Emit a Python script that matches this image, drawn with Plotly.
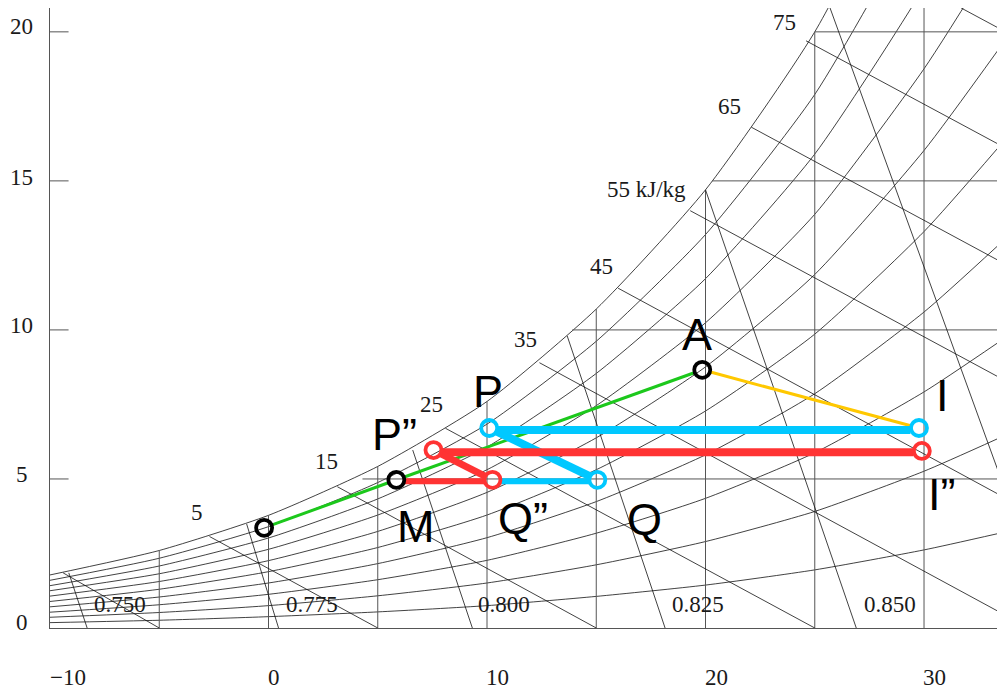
import plotly.graph_objects as go

# Psychrometric chart values
temp_grid = [-10, -5, 0, 5, 10, 15, 20, 25, 30, 33.4]
rh_curves = {
    100: [1.78, 2.60, 3.78, 5.42, 7.60, 10.70, 14.70, 20.00, 27.20, 33.00],
    90: [1.60, 2.34, 3.40, 4.88, 6.84, 9.62, 13.20, 17.90, 24.30, 29.50],
    80: [1.42, 2.08, 3.02, 4.33, 6.07, 8.54, 11.72, 15.90, 21.50, 26.10],
    70: [1.25, 1.82, 2.64, 3.79, 5.31, 7.46, 10.24, 13.88, 18.76, 22.70],
    60: [1.07, 1.56, 2.26, 3.24, 4.55, 6.38, 8.76, 11.86, 16.02, 19.40],
    50: [0.89, 1.30, 1.89, 2.70, 3.79, 5.31, 7.28, 9.86, 13.30, 16.12],
    40: [0.71, 1.04, 1.51, 2.16, 3.03, 4.24, 5.81, 7.86, 10.60, 12.84],
    30: [0.53, 0.78, 1.13, 1.62, 2.27, 3.18, 4.35, 5.88, 7.92, 9.58],
    20: [0.36, 0.52, 0.75, 1.08, 1.51, 2.12, 2.90, 3.91, 5.26, 6.36],
    10: [0.18, 0.26, 0.38, 0.54, 0.75, 1.06, 1.44, 1.95, 2.62, 3.17],
}
dry_bulb_lines = [(-5, 2.60), (0, 3.78), (5, 5.42), (10, 7.60), (15, 10.70), (20, 14.70), (25, 20.00), (30, 20.8)]
humidity_lines = [(4.3, 5), (13.9, 10), (20.3, 15), (25.0, 20)]

# enthalpy lines: (T, W) on the saturation curve -> (T, W) further down
enthalpy_lines = [
    ((-9.4, 1.85), (-5, 0)), ((-2.7, 3.07), (5, 0)), ((3.15, 4.74), (15, 0)),
    ((8.1, 6.7), (25, 0)), ((12.4, 8.9), (34.8, 0)), ((16.0, 11.4), (44.7, 0)),
    ((19.3, 14.0), (54.7, 0)), ((22.1, 16.8), (64.6, 0)), ((24.6, 19.7), (74.6, 0)),
    ((31.7, 20.8), (84.5, 0)),
]
enthalpy_text = ["5", "15", "25", "35", "45", "55 kJ/kg", "65", "75"]
enthalpy_x = [-3.25, 2.65, 7.45, 11.75, 15.25, 17.3, 21.1, 23.6]
enthalpy_y = [3.88, 5.57, 7.5, 9.69, 12.13, 14.72, 17.5, 20.3]

# specific volume lines
volume_lines = [
    ((-9.14, 1.85), (-8.3, 0)), ((-1.0, 3.49), (0.46, 0)), ((6.6, 5.97), (9.33, 0)),
    ((13.67, 9.8), (18.15, 0)), ((20.0, 14.7), (26.9, 0)), ((25.7, 20.8), (36.0, 0)),
]
volume_text = ["0.750", "0.775", "0.800", "0.825", "0.850"]
volume_x = [-6.8, 2.0, 10.8, 19.65, 28.45]
volume_y = [0.8, 0.8, 0.8, 0.8, 0.8]

# process points
S = (-0.2, 3.36)
M = (5.85, 4.97)
A = (19.85, 8.66)
I = (29.77, 6.71)
P = (10.1, 6.71)
Q = (15.05, 4.97)
Q2 = (10.25, 4.97)
P2 = (7.55, 5.97)
I2 = (29.9, 5.94)

# humidity of the thick horizontal strokes
blue_top_w = 6.64
red_top_w = 5.9
low_w = 4.92

point_text = ["A", "P", "P”", "I", "I”", "M", "Q”", "Q"]
point_text_x = [19.6, 10.05, 5.75, 30.85, 30.8, 6.75, 11.65, 17.2]
point_text_y = [9.84, 7.93, 6.48, 7.81, 4.47, 3.42, 3.67, 3.65]

x_tick_labels = ["−10", "0", "10", "20", "30"]
x_tick_pos = [-9.18, 0.26, 10.5, 20.5, 30.5]
y_ticks = [0, 5, 10, 15, 20]
y_tick_labels = ["0", "5", "10", "15", "20"]
y_tick_pos = [0.17, 5.15, 10.15, 15.13, 20.18]

PX_X, PX_Y = 21.85, 29.8
SERIF = "Liberation Serif, serif"
SANS = "Liberation Sans, Arial, sans-serif"
INK = "#1a1a1a"


def shorten(p, q, r1=8.5, r2=8.5):
    dx, dy = (q[0] - p[0]) * PX_X, (q[1] - p[1]) * PX_Y
    d = (dx * dx + dy * dy) ** 0.5
    a = (p[0] + dx / d * r1 / PX_X, p[1] + dy / d * r1 / PX_Y)
    b = (q[0] - dx / d * r2 / PX_X, q[1] - dy / d * r2 / PX_Y)
    return a, b


fig = go.Figure()


def line(xs, ys, color="#111111", width=0.8, shape="linear"):
    fig.add_trace(go.Scatter(x=xs, y=ys, mode="lines", showlegend=False, hoverinfo="skip",
                             line=dict(color=color, width=width, shape=shape, smoothing=0.6)))


for rh, ws in rh_curves.items():
    line(temp_grid, ws, shape="spline")
for t, w in dry_bulb_lines:
    line([t, t], [0, w], color="#555555", width=1)
for t, w in humidity_lines:
    line([t, 34], [w, w], color="#555555", width=1)
for w in y_ticks[1:]:
    line([-10, -9.15], [w, w], color="#555555", width=1)
for a, b in enthalpy_lines + volume_lines:
    line([a[0], b[0]], [a[1], b[1]])


def seg(p, q, color, width):
    a, b = shorten(p, q)
    line([a[0], b[0]], [a[1], b[1]], color=color, width=width)


GREEN, YELLOW, BLUE, RED = "#1cc81c", "#ffc800", "#00c8ff", "#ff3333"
seg(S, M, GREEN, 3)
seg(M, A, GREEN, 3)
seg(A, I, YELLOW, 3)
seg((Q[0], low_w), (Q2[0], low_w), BLUE, 6)
seg((P[0], blue_top_w), (I[0], blue_top_w), BLUE, 8)
seg(P, Q, BLUE, 8)
seg((M[0], low_w), (Q2[0], low_w), RED, 6)
seg((P2[0], red_top_w), (I2[0], red_top_w), RED, 8)
seg(P2, Q2, RED, 7)


def pts(points, color):
    fig.add_trace(go.Scatter(x=[p[0] for p in points], y=[p[1] for p in points], mode="markers",
                             showlegend=False, hoverinfo="skip",
                             marker=dict(symbol="circle-open", size=16, color=color, line=dict(width=3.8, color=color))))


pts([S, M, A], "#000000")
pts([P, Q, I], BLUE)
pts([P2, Q2, I2], RED)

notes = []


def text(x, y, s, family, size, xref="x", yref="y"):
    notes.append(dict(x=x, y=y, text=s, showarrow=False, xanchor="center", yanchor="middle", xref=xref, yref=yref,
                      font=dict(family=family, size=size, color=INK if family == SERIF else "#000000")))


for s, x, y in zip(enthalpy_text, enthalpy_x, enthalpy_y):
    text(x, y, s, SERIF, 23)
for s, x, y in zip(volume_text, volume_x, volume_y):
    text(x, y, s, SERIF, 23)
for s, x, y in zip(point_text, point_text_x, point_text_y):
    text(x, y, s, SANS, 45)
for s, x in zip(x_tick_labels, x_tick_pos):
    text(x, -0.0806, s, SERIF, 23, yref="paper")
for s, y in zip(y_tick_labels, y_tick_pos):
    text(-0.0296, y, s, SERIF, 23, xref="paper")

fig.update_layout(
    width=997, height=691, autosize=False,
    margin=dict(l=50, r=0, t=8, b=63),
    paper_bgcolor="white", plot_bgcolor="white",
    showlegend=False, annotations=notes,
    xaxis=dict(range=[-10, 33.34], showgrid=False, zeroline=False, showticklabels=False,
               ticks="", showline=True, linecolor="#555555", linewidth=1),
    yaxis=dict(range=[0, 20.8], showgrid=False, zeroline=False, showticklabels=False,
               ticks="", showline=True, linecolor="#555555", linewidth=1),
)
fig.write_html("out.html", config=dict(displayModeBar=False),
               post_script="document.body.style.margin='0';document.body.style.overflow='hidden';")
